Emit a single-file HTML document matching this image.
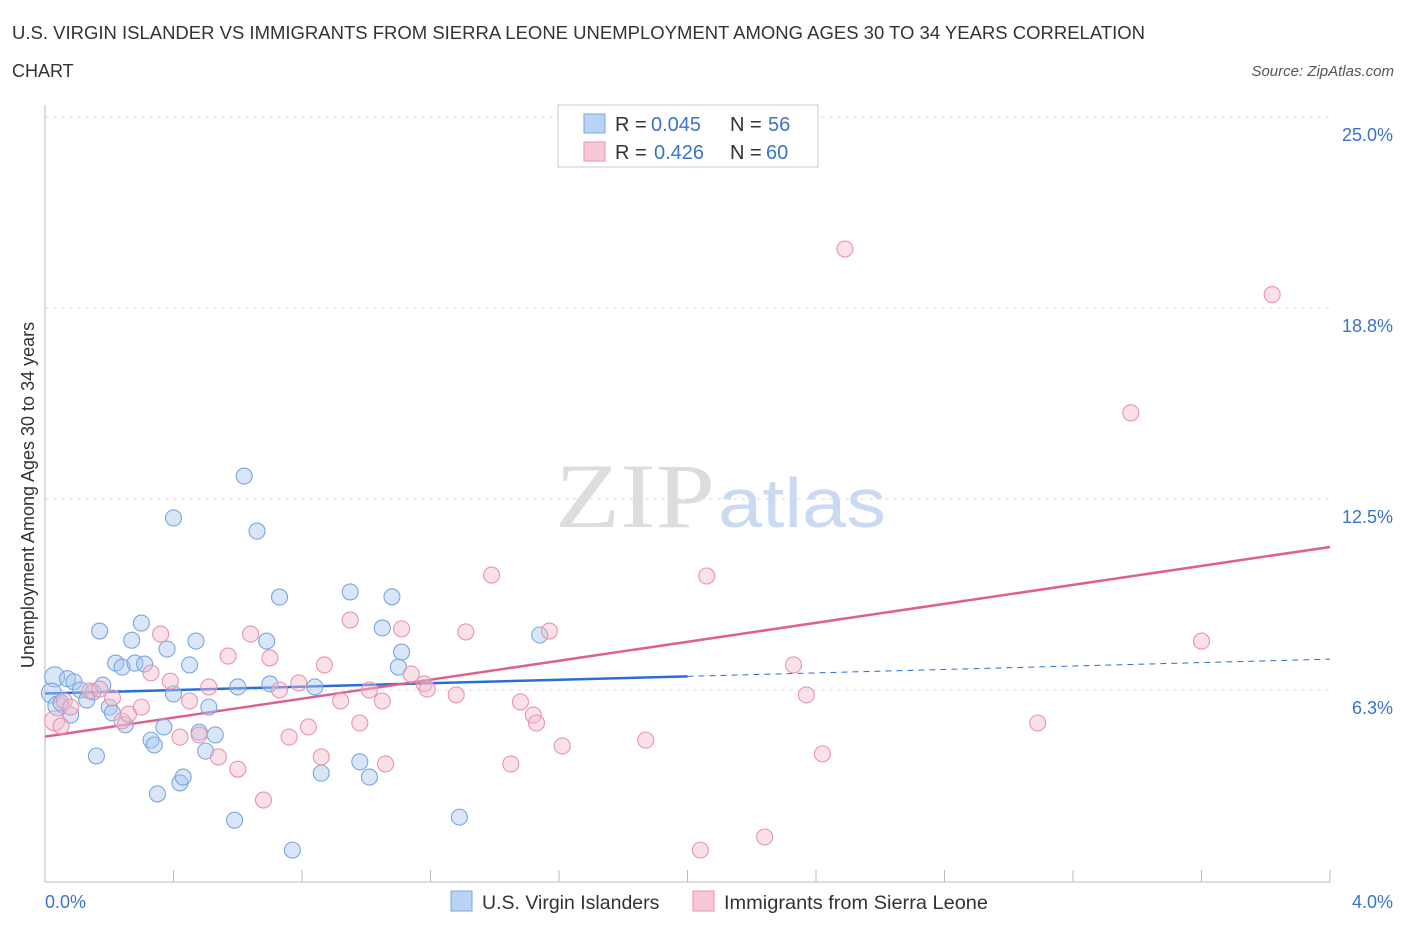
<!DOCTYPE html>
<html><head><meta charset="utf-8"><style>
body{margin:0;background:#fff;font-family:"Liberation Sans",sans-serif;}
</style></head><body>
<svg id="chart" width="1406" height="930" xmlns="http://www.w3.org/2000/svg" style="display:block">
<text x="12" y="39" font-size="18" fill="#333" textLength="1133" lengthAdjust="spacingAndGlyphs">U.S. VIRGIN ISLANDER VS IMMIGRANTS FROM SIERRA LEONE UNEMPLOYMENT AMONG AGES 30 TO 34 YEARS CORRELATION</text>
<text x="12" y="77" font-size="18" fill="#333">CHART</text>
<text x="1394" y="76" font-size="15" fill="#555" font-style="italic" text-anchor="end">Source: ZipAtlas.com</text>
<g>
<text x="555" y="527" font-family="Liberation Serif,serif" font-size="92" fill="#ddd" textLength="160" lengthAdjust="spacingAndGlyphs">ZIP</text>
<text x="718" y="527" font-size="70" fill="#c9daf2" textLength="168" lengthAdjust="spacingAndGlyphs">atlas</text>
</g>
<g id="grid"></g>
<g id="axes"></g>
<g id="lines"></g>
<g id="dots"></g>
<text transform="translate(34,495) rotate(-90)" font-size="18" fill="#333" text-anchor="middle">Unemployment Among Ages 30 to 34 years</text>
<text x="45" y="908" font-size="18" fill="#3b73c9">0.0%</text>
<text x="1393" y="908" font-size="18" fill="#3b73c9" text-anchor="end">4.0%</text>
<g font-size="20">
<rect x="558" y="105" width="260" height="62" fill="#fff" stroke="#ccc"/>
<rect x="584" y="114" width="21" height="19" fill="#b9d3f5" stroke="#7aa6e0"/>
<rect x="584" y="142" width="21" height="19" fill="#f9c8d7" stroke="#e893b0"/>
<text x="615" y="131" fill="#333">R =</text><text x="651" y="131" fill="#3b73c9">0.045</text>
<text x="730" y="131" fill="#333">N =</text><text x="768" y="131" fill="#3b73c9">56</text>
<text x="615" y="159" fill="#333">R =</text><text x="654" y="159" fill="#3b73c9">0.426</text>
<text x="730" y="159" fill="#333">N =</text><text x="766" y="159" fill="#3b73c9">60</text>
</g>
<g>
<rect x="451" y="891" width="21" height="20" fill="#b9d3f5" stroke="#7aa6e0"/>
<text x="482" y="909" font-size="19.5" fill="#333">U.S. Virgin Islanders</text>
<rect x="693" y="891" width="21" height="20" fill="#f9c8d7" stroke="#e893b0"/>
<text x="724" y="909" font-size="19.5" fill="#333" textLength="264" lengthAdjust="spacingAndGlyphs">Immigrants from Sierra Leone</text>
</g>
</svg>
<script>
const yTicks=[6.25,12.5,18.75,25];
const yTickLabels=["6.3%","12.5%","18.8%","25.0%"];
const blueX=[0.03,0.02,0.04,0.07,0.09,0.05,0.08,0.11,0.13,0.15,0.17,0.16,0.18,0.20,0.21,0.22,0.24,0.25,0.27,0.28,0.30,0.31,0.33,0.34,0.35,0.37,0.38,0.40,0.40,0.42,0.43,0.45,0.47,0.48,0.50,0.51,0.53,0.59,0.60,0.62,0.66,0.69,0.70,0.73,0.77,0.84,0.86,0.95,0.98,1.01,1.05,1.08,1.10,1.11,1.29,1.54];
const blueY=[6.68,6.15,5.73,6.62,6.52,5.83,5.43,6.25,5.92,6.18,8.18,4.09,6.41,5.69,5.50,7.13,7.00,5.11,7.88,7.13,8.44,7.10,4.61,4.45,2.85,5.04,7.59,11.88,6.12,3.21,3.40,7.07,7.85,4.87,4.25,5.69,4.78,1.99,6.35,13.25,11.45,7.85,6.45,9.29,1.01,6.35,3.53,9.46,3.90,3.40,8.28,9.30,7.00,7.49,2.09,8.05];
const pinkX=[0.03,0.05,0.06,0.08,0.14,0.17,0.21,0.24,0.26,0.30,0.33,0.36,0.39,0.42,0.45,0.48,0.51,0.54,0.57,0.60,0.64,0.68,0.70,0.73,0.76,0.79,0.82,0.86,0.87,0.92,0.95,0.98,1.01,1.05,1.06,1.11,1.14,1.18,1.19,1.28,1.31,1.39,1.45,1.48,1.52,1.53,1.57,1.61,1.87,2.04,2.06,2.24,2.33,2.37,2.42,2.49,3.09,3.38,3.60,3.82];
const pinkY=[5.24,5.07,5.89,5.69,6.22,6.28,5.99,5.24,5.46,5.69,6.81,8.08,6.54,4.71,5.89,4.78,6.35,4.06,7.36,3.66,8.08,2.65,7.30,6.25,4.71,6.48,5.04,4.06,7.07,5.89,8.54,5.17,6.25,5.89,3.83,8.25,6.77,6.45,6.28,6.09,8.15,10.01,3.83,5.86,5.43,5.17,8.18,4.42,4.61,1.01,9.98,1.44,7.07,6.09,4.16,20.68,5.17,15.32,7.85,19.19];
const NS="http://www.w3.org/2000/svg";
const X=v=>45+v*321.25, Y=v=>881-v*30.56;
function mk(tag,attrs,parent){const e=document.createElementNS(NS,tag);for(const k in attrs)e.setAttribute(k,attrs[k]);document.getElementById(parent).appendChild(e);return e;}
yTicks.forEach((t,i)=>{
 const g=mk('line',{x1:45,x2:1330,y1:Y(t),y2:Y(t),stroke:'#ddd','stroke-dasharray':'4,4'},'grid');
 
 
 const l=mk('text',{x:1393,y:Y(t)+24,'font-size':18,fill:'#3b73c9','text-anchor':'end'},'grid');
 l.textContent=yTickLabels[i];
 
 
});
const ax=mk('line',{x1:45,x2:1330,y1:882,y2:882,stroke:'#bbb'},'axes');


const ay=mk('line',{x1:45,x2:45,y1:105,y2:882,stroke:'#bbb'},'axes');


for(let i=0;i<=10;i++){const t=mk('line',{x1:X(i*0.4),x2:X(i*0.4),y1:882,y2:i==0?882:870,stroke:'#bbb'},'axes');
 
 }
function dots(xs,ys,fill,stroke,name){xs.forEach((v,i)=>{const c=mk('circle',{cx:X(v),cy:Y(ys[i]),r:(v<0.05?10:8),fill:fill,'fill-opacity':0.45,stroke:stroke,'stroke-width':1.1},'dots');
 
 });}
dots(blueX,blueY,'#a9c8f0','#7aa6e0','blue-point');
dots(pinkX,pinkY,'#f5bccd','#e893b0','pink-point');
function fit(xs,ys){const n=xs.length,mx=xs.reduce((a,b)=>a+b)/n,my=ys.reduce((a,b)=>a+b)/n;let sxy=0,sxx=0;xs.forEach((x,i)=>{sxy+=(x-mx)*(ys[i]-my);sxx+=(x-mx)**2});const b=sxy/sxx;return [my-b*mx,b];}
const [ba,bb]=fit(blueX,blueY),[pa,pb]=fit(pinkX,pinkY);
const bl=mk('line',{x1:X(0),y1:Y(ba),x2:X(2),y2:Y(ba+bb*2),stroke:'#2a6fd6','stroke-width':2.5},'lines');


const bd=mk('line',{x1:X(2),y1:Y(ba+bb*2),x2:X(4),y2:Y(ba+bb*4),stroke:'#2a6fd6','stroke-width':1,'stroke-dasharray':'6,5'},'lines');


const pl=mk('line',{x1:X(0),y1:Y(pa),x2:X(4),y2:Y(pa+pb*4),stroke:'#e0608d','stroke-width':2.5},'lines');


</script>
</body></html>
